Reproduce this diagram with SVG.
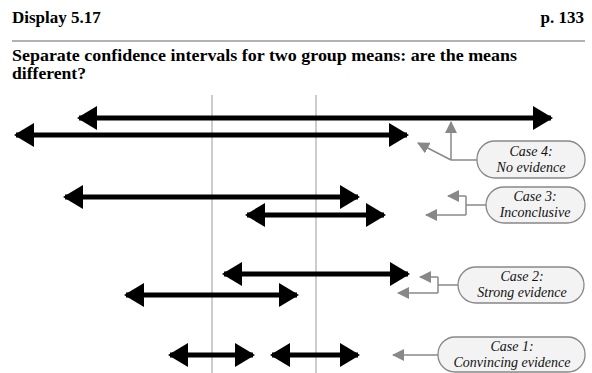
<svg xmlns="http://www.w3.org/2000/svg" width="592" height="373" viewBox="0 0 592 373">
<defs>
<marker id="bh" viewBox="0 0 20 24" refX="18" refY="12" markerWidth="20" markerHeight="24" markerUnits="userSpaceOnUse" orient="auto-start-reverse">
<path d="M0,0 L20,12 L0,24 Z" fill="#000"/>
</marker>
<marker id="gh" viewBox="0 0 12 12" refX="11" refY="6" markerWidth="12" markerHeight="12" markerUnits="userSpaceOnUse" orient="auto">
<path d="M0,0 L12,6 L0,12 Z" fill="#888"/>
</marker>
<style>
.hd{font-family:"Liberation Serif","Times New Roman",serif;font-weight:bold;font-size:17px;fill:#000}
.sub{font-family:"Liberation Serif","Times New Roman",serif;font-weight:bold;font-size:16px;fill:#000}
.ci{stroke:#000;stroke-width:5;fill:none;marker-start:url(#bh);marker-end:url(#bh)}
.ref{stroke:#999;stroke-width:1}
.gc{stroke:#888;stroke-width:1.5;fill:none}
.ga{stroke:#888;stroke-width:1.5;fill:none;marker-end:url(#gh)}
.box{fill:#f3f3f3;stroke:#888;stroke-width:1.3}
.lb{font-family:"Liberation Serif","Times New Roman",serif;font-style:italic;font-size:14px;fill:#111;text-anchor:middle}
</style>
</defs>
<rect width="592" height="373" fill="#fff"/>
<g id="header">
<text class="hd" x="12" y="23">Display 5.17</text>
<text class="hd" x="584" y="23" text-anchor="end">p. 133</text>
<line x1="12" y1="41" x2="585" y2="41" stroke="#999" stroke-width="1.5"/>
<text class="sub" x="12" y="61" textLength="505" lengthAdjust="spacingAndGlyphs">Separate confidence intervals for two group means: are the means</text>
<text class="sub" x="12" y="79" textLength="74" lengthAdjust="spacingAndGlyphs">different?</text>
</g>
<g id="reference-lines">
<line class="ref" x1="212" y1="95" x2="212" y2="373"/>
<line class="ref" x1="316" y1="95" x2="316" y2="373"/>
</g>
<g id="intervals">
<line class="ci" x1="79" y1="118" x2="551" y2="118"/>
<line class="ci" x1="16" y1="135" x2="407" y2="135"/>
<line class="ci" x1="65" y1="197" x2="358" y2="197"/>
<line class="ci" x1="247" y1="215" x2="384" y2="215"/>
<line class="ci" x1="224" y1="274" x2="408" y2="274"/>
<line class="ci" x1="126" y1="295" x2="297" y2="295"/>
<line class="ci" x1="170" y1="355" x2="253" y2="355"/>
<line class="ci" x1="272" y1="355" x2="358" y2="355"/>
</g>
<g id="connectors">
<polyline class="gc" points="477,160 451,160"/>
<line class="ga" x1="451" y1="160" x2="451" y2="122"/>
<line class="ga" x1="451" y1="160" x2="418" y2="143"/>
<polyline class="gc" points="486,205 466,205"/>
<line class="gc" x1="466" y1="196" x2="466" y2="215"/>
<line class="ga" x1="466" y1="196" x2="448" y2="196"/>
<line class="ga" x1="466" y1="215" x2="426" y2="215"/>
<polyline class="gc" points="458,285 438,285"/>
<line class="gc" x1="438" y1="277" x2="438" y2="293"/>
<line class="ga" x1="438" y1="277" x2="420" y2="277"/>
<line class="ga" x1="438" y1="293" x2="398" y2="293"/>
<line class="ga" x1="438" y1="355" x2="393" y2="355"/>
</g>
<g id="case4">
<rect class="box" x="477" y="141" width="108" height="37" rx="18"/>
<text class="lb" x="531" y="156">Case 4:</text>
<text class="lb" x="531" y="171.5">No evidence</text>
</g>
<g id="case3">
<rect class="box" x="486" y="187" width="99" height="36" rx="18"/>
<text class="lb" x="535" y="201">Case 3:</text>
<text class="lb" x="535" y="216.5">Inconclusive</text>
</g>
<g id="case2">
<rect class="box" x="458" y="267" width="126" height="36" rx="18"/>
<text class="lb" x="522" y="281">Case 2:</text>
<text class="lb" x="522" y="296.5">Strong evidence</text>
</g>
<g id="case1">
<rect class="box" x="438" y="337" width="147" height="35" rx="17"/>
<text class="lb" x="512" y="351">Case 1:</text>
<text class="lb" x="512" y="366.5">Convincing evidence</text>
</g>
</svg>
